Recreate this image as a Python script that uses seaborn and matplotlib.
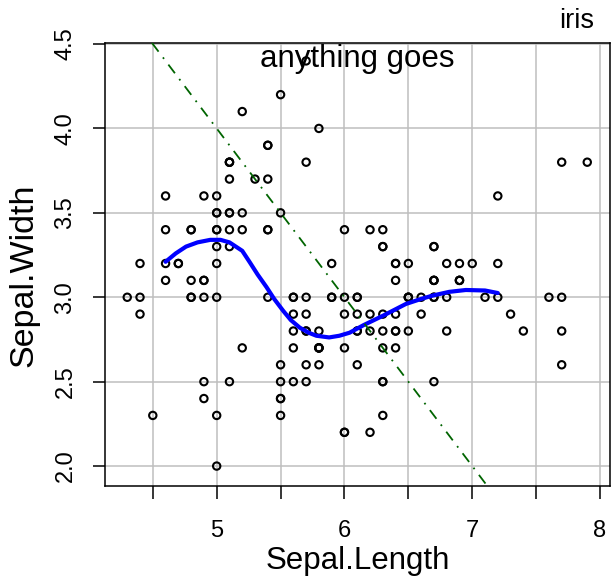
import numpy as np
import pandas as pd
import matplotlib
matplotlib.use("Agg")
import matplotlib.pyplot as plt
import seaborn as sns

# iris data
sepal_length = [
    5.1, 4.9, 4.7, 4.6, 5.0, 5.4, 4.6, 5.0, 4.4, 4.9, 5.4, 4.8, 4.8, 4.3, 5.8, 5.7, 5.4, 5.1, 5.7, 5.1,
    5.4, 5.1, 4.6, 5.1, 4.8, 5.0, 5.0, 5.2, 5.2, 4.7, 4.8, 5.4, 5.2, 5.5, 4.9, 5.0, 5.5, 4.9, 4.4, 5.1,
    5.0, 4.5, 4.4, 5.0, 5.1, 4.8, 5.1, 4.6, 5.3, 5.0,
    7.0, 6.4, 6.9, 5.5, 6.5, 5.7, 6.3, 4.9, 6.6, 5.2, 5.0, 5.9, 6.0, 6.1, 5.6, 6.7, 5.6, 5.8, 6.2, 5.6,
    5.9, 6.1, 6.3, 6.1, 6.4, 6.6, 6.8, 6.7, 6.0, 5.7, 5.5, 5.5, 5.8, 6.0, 5.4, 6.0, 6.7, 6.3, 5.6, 5.5,
    5.5, 6.1, 5.8, 5.0, 5.6, 5.7, 5.7, 6.2, 5.1, 5.7,
    6.3, 5.8, 7.1, 6.3, 6.5, 7.6, 4.9, 7.3, 6.7, 7.2, 6.5, 6.4, 6.8, 5.7, 5.8, 6.4, 6.5, 7.7, 7.7, 6.0,
    6.9, 5.6, 7.7, 6.3, 6.7, 7.2, 6.2, 6.1, 6.4, 7.2, 7.4, 7.9, 6.4, 6.3, 6.1, 7.7, 6.3, 6.4, 6.0, 6.9,
    6.7, 6.9, 5.8, 6.8, 6.7, 6.7, 6.3, 6.5, 6.2, 5.9,
]
sepal_width = [
    3.5, 3.0, 3.2, 3.1, 3.6, 3.9, 3.4, 3.4, 2.9, 3.1, 3.7, 3.4, 3.0, 3.0, 4.0, 4.4, 3.9, 3.5, 3.8, 3.8,
    3.4, 3.7, 3.6, 3.3, 3.4, 3.0, 3.4, 3.5, 3.4, 3.2, 3.1, 3.4, 4.1, 4.2, 3.1, 3.2, 3.5, 3.6, 3.0, 3.4,
    3.5, 2.3, 3.2, 3.5, 3.8, 3.0, 3.8, 3.2, 3.7, 3.3,
    3.2, 3.2, 3.1, 2.3, 2.8, 2.8, 3.3, 2.4, 2.9, 2.7, 2.0, 3.0, 2.2, 2.9, 2.9, 3.1, 3.0, 2.7, 2.2, 2.5,
    3.2, 2.8, 2.5, 2.8, 2.9, 3.0, 2.8, 3.0, 2.9, 2.6, 2.4, 2.4, 2.7, 2.7, 3.0, 3.4, 3.1, 2.3, 3.0, 2.5,
    2.6, 3.0, 2.6, 2.3, 2.7, 3.0, 2.9, 2.9, 2.5, 2.8,
    3.3, 2.7, 3.0, 2.9, 3.0, 3.0, 2.5, 2.9, 2.5, 3.6, 3.2, 2.7, 3.0, 2.5, 2.8, 3.2, 3.0, 3.8, 2.6, 2.2,
    3.2, 2.8, 2.8, 2.7, 3.3, 3.2, 2.8, 3.0, 2.8, 3.0, 2.8, 3.8, 2.8, 2.8, 2.6, 3.0, 3.4, 3.1, 3.0, 3.1,
    3.1, 3.1, 2.7, 3.2, 3.3, 3.0, 2.5, 3.0, 3.4, 3.0,
]

# smooth curve
smooth_x = [4.6, 4.68, 4.76, 4.85, 4.95, 5.03, 5.1, 5.2, 5.26, 5.32, 5.39, 5.45, 5.52, 5.58, 5.65, 5.72,
            5.78, 5.88, 5.96, 6.04, 6.15, 6.3, 6.48, 6.6, 6.69, 6.82, 6.95, 7.1, 7.2]
smooth_y = [3.21, 3.26, 3.30, 3.325, 3.34, 3.34, 3.325, 3.275, 3.206, 3.135, 3.06, 2.99, 2.92, 2.865, 2.82,
            2.79, 2.772, 2.762, 2.772, 2.79, 2.835, 2.89, 2.96, 2.99, 3.01, 3.032, 3.043, 3.04, 3.025]

# reference line y = a + b*x
abline_a = 9
abline_b = -1

x_ticks = [4.5, 5.0, 5.5, 6.0, 6.5, 7.0, 7.5, 8.0]
x_tick_labels = ['', '5', '', '6', '', '7', '', '8']
y_ticks = [2.0, 2.5, 3.0, 3.5, 4.0, 4.5]
y_tick_labels = ['2.0', '2.5', '3.0', '3.5', '4.0', '4.5']

df = pd.DataFrame({'Sepal.Length': sepal_length, 'Sepal.Width': sepal_width})
smooth = pd.DataFrame({'x': smooth_x, 'y': smooth_y})

sns.set_theme(style='white')
plt.rcParams['font.family'] = ['Liberation Sans', 'DejaVu Sans']
plt.rcParams['text.color'] = 'black'

fig = plt.figure(figsize=(6.11, 5.83), dpi=100)
ax = fig.add_axes([105 / 611, 1 - 486 / 583, 505 / 611, 443 / 583])

ax.set_xlim(4.126, 8.078)
ax.set_ylim(1.882, 4.506)

# grid at every tick
for xv in x_ticks:
    ax.axvline(xv, color='#BEBEBE', lw=1.1, zorder=0)
for yv in y_ticks:
    ax.axhline(yv, color='#BEBEBE', lw=1.1, zorder=0)

sns.scatterplot(data=df, x='Sepal.Length', y='Sepal.Width', ax=ax,
                marker='o', s=28, facecolor='none', edgecolor='black',
                linewidth=1.5, zorder=3)

sns.lineplot(data=smooth, x='x', y='y', ax=ax, sort=False,
             color='#0000FF', lw=3.0, zorder=4)

ax.axline((0, abline_a), slope=abline_b, color='#006400', lw=1.3,
          linestyle=(0, (6, 4, 1, 4)), zorder=4)

ax.set_xticks(x_ticks)
ax.set_xticklabels(x_tick_labels)
ax.set_yticks(y_ticks)
ax.set_yticklabels(y_tick_labels, rotation=90, va='center')

ax.tick_params(axis='x', direction='out', length=9.5, width=1.1, color='black',
               labelcolor='black', labelsize=17, pad=15, bottom=True)
ax.tick_params(axis='y', direction='out', length=8.6, width=1.1, color='black',
               labelcolor='black', labelsize=17, pad=12, left=True)

for sp in ax.spines.values():
    sp.set_color('black')
    sp.set_linewidth(1.1)

ax.set_xlabel('Sepal.Length', fontsize=22.5, color='black')
ax.set_ylabel('Sepal.Width', fontsize=24.5, color='black')
ax.xaxis.set_label_coords(0.5, -0.135)
ax.yaxis.set_label_coords(-0.13, 0.476)

ax.text(0.5, 0.946, 'anything goes', transform=ax.transAxes, ha='center',
        va='baseline', fontsize=22.5, color='black', zorder=5)
fig.text(0.944, 1 - 28 / 583, 'iris', ha='center', va='baseline',
         fontsize=19.5, color='black')

fig.savefig('out.png', dpi=100)
plt.close(fig)
